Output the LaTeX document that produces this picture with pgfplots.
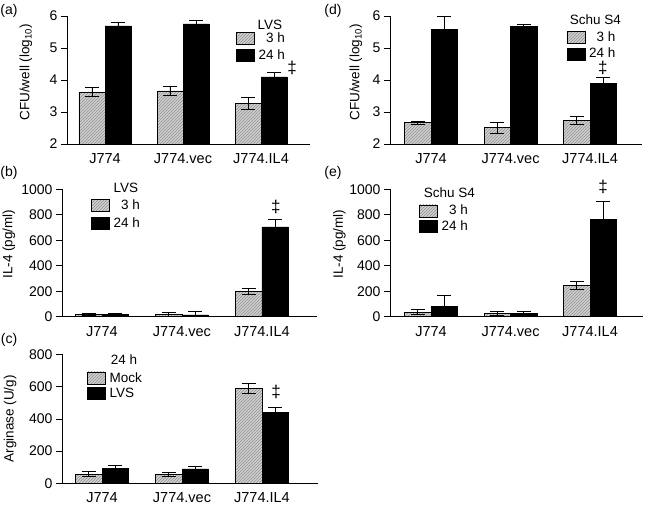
\documentclass[border=0pt]{standalone}
\usepackage{fontspec}
\setmainfont{Liberation Sans}
\usepackage{pgfplots}
\usepackage{pgfplotstable}
\pgfplotsset{compat=1.18}
\usetikzlibrary{patterns}

% (a) LVS CFU
\pgfplotstableread{
x y e
0 3.62 0.14
1 3.66 0.13
2 3.27 0.18
}\aGray
\pgfplotstableread{
x y e
0 5.69 0.10
1 5.75 0.10
2 4.10 0.13
}\aBlack
% (d) Schu S4 CFU
\pgfplotstableread{
x y e
0 2.67 0.05
1 2.51 0.17
2 2.73 0.12
}\dGray
\pgfplotstableread{
x y e
0 5.58 0.40
1 5.67 0.07
2 3.90 0.18
}\dBlack
% (b) LVS IL-4
\pgfplotstableread{
x y e
0 20 8
1 20 15
2 200 22
}\bGray
\pgfplotstableread{
x y e
0 18 10
1 15 30
2 705 60
}\bBlack
% (e) Schu S4 IL-4
\pgfplotstableread{
x y e
0 35 20
1 25 15
2 245 32
}\eGray
\pgfplotstableread{
x y e
0 82 82
1 25 15
2 765 138
}\eBlack
% (c) Arginase
\pgfplotstableread{
x y e
0 57 17
1 55 12
2 589 30
}\cGray
\pgfplotstableread{
x y e
0 93 20
1 90 15
2 438 33
}\cBlack

\newcommand{\fs}{\fontsize{13.5}{15}\selectfont}
\newcommand{\dg}{\fontsize{17}{17}\selectfont ‡}

\pgfplotsset{
  panel/.style={
    scale only axis,
    clip mode=individual,
    axis lines=left,
    axis line style={-, line width=0.6pt},
    tick align=outside,
    major tick length=6pt,
    tick style={black, line width=0.6pt},
    xtick={0,1,2},
    xticklabels={J774,J774.vec,J774.IL4},
    x tick style={draw=none},
    y tick label style={font=\fontsize{14}{15}\selectfont},
    x tick label style={font=\fontsize{14.5}{15}\selectfont},
    label style={font=\fs},
    ylabel style={anchor=center},
    /pgf/number format/assume math mode=true,
    /pgf/number format/set thousands separator={},
    legend style={draw=none, fill=none, font=\fs, inner sep=0pt, anchor=north west,
      column sep=3pt, nodes={inner sep=1pt}},
    legend cell align=right,
  },
  errs/.style={
    error bars/.cd, y dir=both, y explicit,
    error bar style={line width=0.7pt, black},
    error mark options={rotate=90, mark size=7pt, line width=0.7pt, black},
  },
  graybar/.style={ybar, bar width=0.333, bar shift=0pt, draw=black, line width=0.5pt,
    fill=gray!38, postaction={pattern=north east lines, pattern color=gray!85},
    legend image code/.code={\draw[##1] (0pt,-6pt) rectangle (18pt,6pt);},
    errs},
  blackbar/.style={ybar, bar width=0.333, bar shift=0pt, draw=black, line width=0.5pt,
    fill=black,
    legend image code/.code={\draw[##1] (0pt,-6pt) rectangle (18pt,6pt);},
    errs},
}

\begin{document}
\begin{tikzpicture}
\useasboundingbox (0pt,0pt) rectangle (645pt,505pt);

% panel labels
\node[font=\fontsize{14}{15}\selectfont] at (9pt,494pt) {(a)};
\node[font=\fontsize{14}{15}\selectfont] at (9pt,332pt) {(b)};
\node[font=\fontsize{14}{15}\selectfont] at (9pt,165pt) {(c)};
\node[font=\fontsize{14}{15}\selectfont] at (333pt,494pt) {(d)};
\node[font=\fontsize{14}{15}\selectfont] at (333pt,332pt) {(e)};

% (a)
\begin{axis}[panel, at={(67pt,361pt)}, anchor=south west, width=243pt, height=128pt,
  xmin=-0.487, xmax=2.628, ymin=2, ymax=6, ytick={2,3,4,5,6},
  ylabel={CFU/well (log\textsubscript{10})},
  ylabel style={at={(axis description cs:-0.169,0.56)}},
  legend style={at={(axis description cs:0.695,0.88)}, row sep=3.5pt}]
\addplot[graybar] table[x expr=\thisrow{x}-0.1667,y=y,y error=e]{\aGray};
\addplot[blackbar] table[x expr=\thisrow{x}+0.1667,y=y,y error=e]{\aBlack};
\legend{3 h,24 h}
\node[font=\fs] at (axis cs:2.115,5.71) {LVS};
\node at (axis cs:2.40,4.375) {\dg};
\end{axis}

% (d)
\begin{axis}[panel, at={(390pt,361pt)}, anchor=south west, width=252pt, height=128pt,
  xmin=-0.516, xmax=2.654, ymin=2, ymax=6, ytick={2,3,4,5,6},
  ylabel={CFU/well (log\textsubscript{10})},
  ylabel style={at={(axis description cs:-0.135,0.56)}},
  legend style={at={(axis description cs:0.70,0.885)}, row sep=3pt}]
\addplot[graybar] table[x expr=\thisrow{x}-0.1667,y=y,y error=e]{\dGray};
\addplot[blackbar] table[x expr=\thisrow{x}+0.1667,y=y,y error=e]{\dBlack};
\legend{3 h,24 h}
\node[font=\fs] at (axis cs:2.069,5.875) {Schu S4};
\node at (axis cs:2.163,4.375) {\dg};
\end{axis}

% (b)
\begin{axis}[panel, at={(62pt,188.3pt)}, anchor=south west, width=255pt, height=127.4pt,
  xmin=-0.5, xmax=2.69, ymin=0, ymax=1000, ytick={0,200,400,600,800,1000},
  ylabel={IL-4 (pg/ml)},
  ylabel style={at={(axis description cs:-0.208,0.57)}},
  legend style={at={(axis description cs:0.113,0.925)}, row sep=4.5pt}]
\addplot[graybar] table[x expr=\thisrow{x}-0.1667,y=y,y error=e]{\bGray};
\addplot[blackbar] table[x expr=\thisrow{x}+0.1667,y=y,y error=e]{\bBlack};
\legend{3 h,24 h}
\node[font=\fs] at (axis cs:0.3,1010) {LVS};
\node at (axis cs:2.175,863) {\dg};
\end{axis}

% (e)
\begin{axis}[panel, at={(390pt,188.3pt)}, anchor=south west, width=253pt, height=127.4pt,
  xmin=-0.516, xmax=2.666, ymin=0, ymax=1000, ytick={0,200,400,600,800,1000},
  ylabel={IL-4 (pg/ml)},
  ylabel style={at={(axis description cs:-0.2,0.57)}},
  legend style={at={(axis description cs:0.114,0.885)}, row sep=2pt}]
\addplot[graybar] table[x expr=\thisrow{x}-0.1667,y=y,y error=e]{\eGray};
\addplot[blackbar] table[x expr=\thisrow{x}+0.1667,y=y,y error=e]{\eBlack};
\legend{3 h,24 h}
\node[font=\fs] at (axis cs:0.232,975) {Schu S4};
\node at (axis cs:2.163,1020) {\dg};
\end{axis}

% (c)
\begin{axis}[panel, at={(62pt,21.7pt)}, anchor=south west, width=256pt, height=129pt,
  xmin=-0.5, xmax=2.7, ymin=0, ymax=800, ytick={0,200,400,600,800},
  ylabel={Arginase (U/g)},
  ylabel style={at={(axis description cs:-0.203,0.5)}},
  legend cell align=left,
  legend style={at={(axis description cs:0.097,0.87)}, row sep=2.5pt}]
\addplot[graybar] table[x expr=\thisrow{x}-0.1667,y=y,y error=e]{\cGray};
\addplot[blackbar] table[x expr=\thisrow{x}+0.1667,y=y,y error=e]{\cBlack};
\legend{Mock,LVS}
\node[font=\fs] at (axis cs:0.275,765) {24 h};
\node at (axis cs:2.175,568) {\dg};
\end{axis}
\end{tikzpicture}
\end{document}
